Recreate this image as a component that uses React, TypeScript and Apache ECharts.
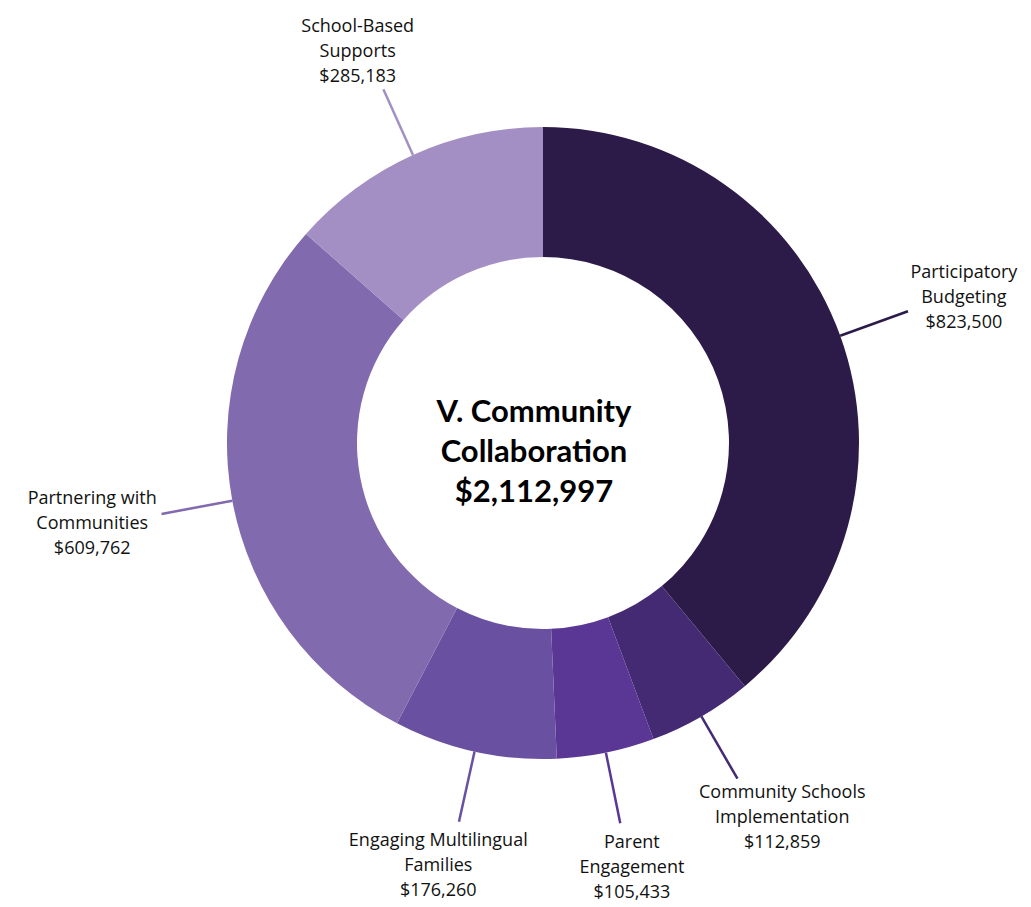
import React, { useEffect, useRef } from "react";
import * as echarts from "echarts";

const categories = [
  "Participatory\nBudgeting",
  "Community Schools\nImplementation",
  "Parent\nEngagement",
  "Engaging Multilingual\nFamilies",
  "Partnering with\nCommunities",
  "School-Based\nSupports",
];
const values = [823500, 112859, 105433, 176260, 609762, 285183];
const colors = ["#2c1b49", "#432a72", "#5a3794", "#6a50a0", "#826aae", "#a38fc4"];
const centerTitle = "V. Community\nCollaboration\n$2,112,997";

const fmt = (v: number) => "$" + v.toLocaleString("en-US");

export default function App() {
  const ref = useRef<HTMLDivElement>(null);
  useEffect(() => {
    if (!ref.current) return;
    const chart = echarts.init(ref.current, undefined, { renderer: "svg" });
    chart.setOption({
      animation: false,
      backgroundColor: "#ffffff",
      title: {
        text: centerTitle,
        left: 529,
        top: 385,
        textAlign: "center",
        textStyle: {
          fontFamily: "Lato",
          fontWeight: "bold",
          fontSize: 31,
          lineHeight: 40,
          color: "#000000",
        },
      },
      series: [
        {
          type: "pie",
          center: [543, 443],
          radius: [186, 316],
          startAngle: 90,
          clockwise: true,
          avoidLabelOverlap: false,
          data: categories.map((name, i) => ({
            name,
            value: values[i],
            itemStyle: { color: colors[i] },
            labelLine: { lineStyle: { color: colors[i] } },
          })),
          label: {
            show: true,
            position: "outside",
            formatter: (p: any) => p.name + "\n" + fmt(p.value),
            fontFamily: "Open Sans",
            fontSize: 18,
            lineHeight: 25,
            color: "#111111",
            align: "center",
          },
          labelLine: {
            show: true,
            length: 72,
            length2: 0,
            smooth: false,
            lineStyle: { width: 2.5 },
          },
          labelLayout: (p: any) => {
            const pts = p.labelLinePoints;
            if (!pts || pts.length < 2) return {};
            const a = pts[0];
            const b = pts[1];
            const dx = b[0] - a[0];
            const dy = b[1] - a[1];
            const len = Math.hypot(dx, dy) || 1;
            const ux = dx / len;
            const uy = dy / len;
            const w = p.labelRect.width;
            const h = p.labelRect.height;
            return {
              x: b[0] + ux * (w / 2 + 6),
              y: b[1] + uy * (h / 2 + 6),
              align: "center",
              verticalAlign: "middle",
              labelLinePoints: [a, b],
            };
          },
          emphasis: { disabled: true },
        },
      ],
    });
    return () => chart.dispose();
  }, []);
  return (
    <div
      ref={ref}
      style={{ position: "absolute", left: 0, top: 0, width: 1031, height: 907 }}
    />
  );
}
